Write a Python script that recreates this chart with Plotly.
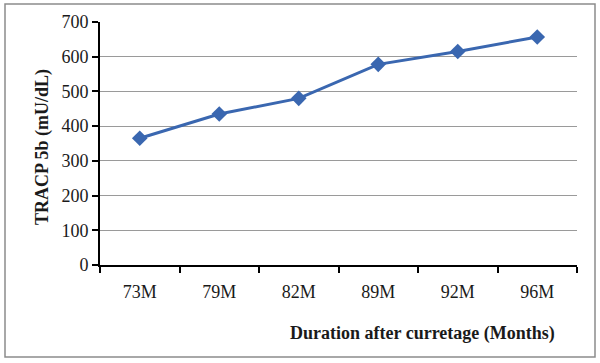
import plotly.graph_objects as go

categories = ["73M", "79M", "82M", "89M", "92M", "96M"]
values = [365, 435, 480, 578, 615, 657]
y_ticks = [0, 100, 200, 300, 400, 500, 600, 700]

FONT = "Liberation Serif, Times New Roman, serif"

fig = go.Figure()
fig.add_trace(go.Scatter(
    x=categories, y=values, mode="lines+markers",
    line=dict(color="#3a67b0", width=3),
    marker=dict(symbol="diamond", size=12, color="#3a67b0"),
))

L, R, T, B = 100, 23, 22, 98
W, H = 600, 363
pw, ph = W - L - R, H - T - B

def px_x(p):
    return (p - L) / pw

def px_y(p):
    return (H - B - p) / ph

fig.update_layout(
    width=W, height=H,
    margin=dict(l=L, r=R, t=T, b=B),
    paper_bgcolor="white", plot_bgcolor="white",
    showlegend=False,
    font=dict(family=FONT, size=18, color="#1a1a1a"),
    xaxis=dict(
        type="category", range=[-0.5, 5.5], automargin=False,
        tickson="boundaries", ticks="outside", ticklen=6, tickwidth=2, tickcolor="black",
        showline=True, linecolor="black", linewidth=2,
        showgrid=False, tickfont=dict(family=FONT, size=18, color="#1a1a1a"),
        ticklabelstandoff=9,
    ),
    yaxis=dict(
        range=[0, 700], tickvals=y_ticks, automargin=False,
        ticks="outside", ticklen=6, tickwidth=2, tickcolor="black",
        showline=True, linecolor="black", linewidth=2,
        showgrid=True, gridcolor="#9a9a9a", gridwidth=1,
        zeroline=False,
        tickfont=dict(family=FONT, size=18, color="#1a1a1a"),
    ),
    shapes=[dict(type="rect", xref="paper", yref="paper",
                 x0=px_x(5), x1=px_x(595), y0=px_y(357), y1=px_y(4),
                 line=dict(color="#8c8c8c", width=1.5), layer="below")],
    annotations=[
        dict(text="<b>Duration after curretage (Months)</b>", xref="paper", yref="paper",
             x=px_x(557), y=px_y(333), xanchor="right", yanchor="middle",
             showarrow=False, font=dict(family=FONT, size=18, color="#1a1a1a")),
        dict(text="<b>TRACP 5b (mU/dL)</b>", xref="paper", yref="paper",
             x=px_x(42), y=px_y(147), xanchor="center", yanchor="middle", textangle=-90,
             showarrow=False, font=dict(family=FONT, size=18, color="#1a1a1a")),
    ],
)

fig.write_html("out.html", config={"displayModeBar": False},
               post_script="document.body.style.margin='0';document.body.style.overflow='hidden';")
